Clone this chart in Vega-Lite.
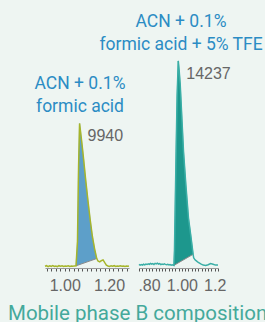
{
  "$schema": "https://vega.github.io/schema/vega-lite/v6.json",
  "background": "#eef5f2",
  "padding": {"left": 8, "top": 12, "right": 0, "bottom": 0},
  "config": {"view": {"stroke": null}, "font": "Roboto"},
  "bounds": "flush",
  "spacing": 10,
  "title": {"text": "Mobile phase B composition", "orient": "bottom", "anchor": "start", "frame": "group", "dx": -37, "fontSize": 20.5, "font": "Roboto", "fontWeight": "normal", "color": "#44a99b", "offset": 11},
  "datasets": {
    "left": [
      {"time": 0.911, "signal": 120}, {"time": 0.918, "signal": 160}, {"time": 0.925, "signal": 95}, {"time": 0.932, "signal": 150},
      {"time": 0.939, "signal": 115}, {"time": 0.946, "signal": 170}, {"time": 0.953, "signal": 105}, {"time": 0.96, "signal": 140},
      {"time": 0.967, "signal": 90}, {"time": 0.974, "signal": 160}, {"time": 0.981, "signal": 125}, {"time": 0.988, "signal": 150},
      {"time": 0.995, "signal": 100}, {"time": 1.002, "signal": 135}, {"time": 1.009, "signal": 115}, {"time": 1.016, "signal": 150},
      {"time": 1.023, "signal": 105}, {"time": 1.03, "signal": 140}, {"time": 1.037, "signal": 120}, {"time": 1.044, "signal": 145},
      {"time": 1.051, "signal": 150}, {"time": 1.0575, "signal": 1800}, {"time": 1.0625, "signal": 7000}, {"time": 1.067, "signal": 9940},
      {"time": 1.072, "signal": 9300}, {"time": 1.078, "signal": 8500}, {"time": 1.085, "signal": 7500}, {"time": 1.095, "signal": 6000},
      {"time": 1.105, "signal": 4600}, {"time": 1.115, "signal": 3300}, {"time": 1.125, "signal": 2150}, {"time": 1.135, "signal": 1300},
      {"time": 1.1445, "signal": 650}, {"time": 1.15, "signal": 480}, {"time": 1.158, "signal": 420}, {"time": 1.165, "signal": 500},
      {"time": 1.173, "signal": 560}, {"time": 1.18, "signal": 380}, {"time": 1.188, "signal": 200}, {"time": 1.195, "signal": 140},
      {"time": 1.202, "signal": 110}, {"time": 1.209, "signal": 150}, {"time": 1.216, "signal": 120}, {"time": 1.223, "signal": 160},
      {"time": 1.23, "signal": 105}, {"time": 1.237, "signal": 140}, {"time": 1.244, "signal": 115}, {"time": 1.251, "signal": 150},
      {"time": 1.258, "signal": 120}, {"time": 1.265, "signal": 140}, {"time": 1.272, "signal": 100}, {"time": 1.279, "signal": 135},
      {"time": 1.286, "signal": 120}, {"time": 1.29, "signal": 130}
    ],
    "right": [
      {"time": 0.739, "signal": 250}, {"time": 0.746, "signal": 190}, {"time": 0.753, "signal": 230}, {"time": 0.76, "signal": 200},
      {"time": 0.767, "signal": 260}, {"time": 0.774, "signal": 220}, {"time": 0.781, "signal": 270}, {"time": 0.788, "signal": 240},
      {"time": 0.795, "signal": 290}, {"time": 0.802, "signal": 250}, {"time": 0.809, "signal": 310}, {"time": 0.816, "signal": 260},
      {"time": 0.823, "signal": 300}, {"time": 0.83, "signal": 240}, {"time": 0.837, "signal": 320}, {"time": 0.844, "signal": 280},
      {"time": 0.851, "signal": 330}, {"time": 0.858, "signal": 270}, {"time": 0.865, "signal": 300}, {"time": 0.872, "signal": 230},
      {"time": 0.879, "signal": 270}, {"time": 0.886, "signal": 240}, {"time": 0.893, "signal": 290}, {"time": 0.9, "signal": 250},
      {"time": 0.907, "signal": 230}, {"time": 0.914, "signal": 260}, {"time": 0.921, "signal": 210}, {"time": 0.928, "signal": 240},
      {"time": 0.935, "signal": 190}, {"time": 0.942, "signal": 220}, {"time": 0.9515, "signal": 180}, {"time": 0.955, "signal": 1200},
      {"time": 0.965, "signal": 8000}, {"time": 0.971, "signal": 11800}, {"time": 0.978, "signal": 14237}, {"time": 0.984, "signal": 13500},
      {"time": 0.99, "signal": 12600}, {"time": 1.0, "signal": 10300}, {"time": 1.01, "signal": 8000}, {"time": 1.024, "signal": 5750},
      {"time": 1.04, "signal": 3450}, {"time": 1.056, "signal": 2080}, {"time": 1.0685, "signal": 940}, {"time": 1.072, "signal": 700},
      {"time": 1.08, "signal": 560}, {"time": 1.09, "signal": 470}, {"time": 1.1, "signal": 380}, {"time": 1.115, "signal": 280},
      {"time": 1.13, "signal": 200}, {"time": 1.145, "signal": 170}, {"time": 1.16, "signal": 220}, {"time": 1.175, "signal": 300},
      {"time": 1.19, "signal": 260}, {"time": 1.205, "signal": 200}, {"time": 1.22, "signal": 210}
    ],
    "leftChord": [{"time": 1.051, "signal": 150, "time2": 1.1445, "signal2": 650}],
    "rightChord": [{"time": 0.9515, "signal": 180, "time2": 1.0685, "signal2": 940}],
    "leftLabel": [{"time": 1.067, "signal": 9940, "label": "9940"}],
    "rightLabel": [{"time": 0.978, "signal": 14237, "label": "14237"}]
  },
  "hconcat": [
    {
      "width": 84,
      "height": 216,
      "title": {"text": ["ACN + 0.1%", "formic acid"], "fontSize": 17.5, "font": "Roboto", "fontWeight": "normal", "color": "#2b8cc4", "lineHeight": 23, "offset": -63, "dx": -7, "anchor": "middle"},
      "encoding": {
        "x": {"field": "time", "type": "quantitative", "scale": {"domain": [0.911, 1.29], "nice": false, "zero": false},
          "axis": {"values": [0.92, 0.94, 0.96, 0.98, 1.0, 1.02, 1.04, 1.06, 1.08, 1.1, 1.12, 1.14, 1.16, 1.18, 1.2, 1.22, 1.24, 1.26, 1.28],
            "labelExpr": "abs(datum.value-1)<0.001 ? '1.00' : abs(datum.value-1.2)<0.001 ? '1.20' : ''",
            "title": null, "grid": false, "tickSize": 3, "tickColor": "#555", "domainColor": "#999", "labelFont": "Liberation Sans", "labelFontSize": 16, "labelColor": "#666", "labelPadding": 6, "labelOverlap": false, "labelBound": false, "labelFlush": false}},
        "y": {"field": "signal", "type": "quantitative", "scale": {"domain": [0, 14850], "nice": false}, "axis": null}
      },
      "layer": [
        {"data": {"name": "left"}, "transform": [{"filter": "datum.time >= 1.051 && datum.time <= 1.1445"}], "mark": {"type": "line", "fill": "#5d9fc9", "stroke": "#5d9fc9", "strokeWidth": 0.5}},
        {"data": {"name": "leftChord"}, "mark": {"type": "rule", "color": "#8a8a8a", "strokeWidth": 1}, "encoding": {"x2": {"field": "time2"}, "y2": {"field": "signal2"}}},
        {"data": {"name": "left"}, "mark": {"type": "line", "color": "#a6b52b", "strokeWidth": 1.5}},
        {"data": {"name": "leftLabel"}, "mark": {"type": "text", "align": "left", "baseline": "middle", "dx": 8, "dy": 13, "fontSize": 16, "font": "Liberation Sans", "color": "#666"}, "encoding": {"text": {"field": "label"}}}
      ]
    },
    {
      "width": 79,
      "height": 216,
      "title": {"text": ["ACN + 0.1%", "formic acid + 5% TFE"], "fontSize": 17.5, "font": "Roboto", "fontWeight": "normal", "color": "#2b8cc4", "lineHeight": 23, "offset": -1, "dx": 2.5, "anchor": "middle"},
      "encoding": {
        "x": {"field": "time", "type": "quantitative", "scale": {"domain": [0.739, 1.22], "nice": false, "zero": false},
          "axis": {"values": [0.74, 0.76, 0.78, 0.8, 0.82, 0.84, 0.86, 0.88, 0.9, 0.92, 0.94, 0.96, 0.98, 1.0, 1.02, 1.04, 1.06, 1.08, 1.1, 1.12, 1.14, 1.16, 1.18, 1.2, 1.22],
            "labelExpr": "abs(datum.value-0.8)<0.001 ? '.80' : abs(datum.value-1)<0.001 ? '1.00' : abs(datum.value-1.2)<0.001 ? '1.2' : ''",
            "title": null, "grid": false, "tickSize": 3, "tickColor": "#555", "domainColor": "#999", "labelFont": "Liberation Sans", "labelFontSize": 16, "labelColor": "#666", "labelPadding": 6, "labelOverlap": false, "labelBound": false, "labelFlush": false}},
        "y": {"field": "signal", "type": "quantitative", "scale": {"domain": [0, 14850], "nice": false}, "axis": null}
      },
      "layer": [
        {"data": {"name": "right"}, "transform": [{"filter": "datum.time >= 0.9515 && datum.time <= 1.0685"}], "mark": {"type": "line", "fill": "#1d978d", "stroke": "#1d978d", "strokeWidth": 0.5}},
        {"data": {"name": "rightChord"}, "mark": {"type": "rule", "color": "#8a8a8a", "strokeWidth": 1}, "encoding": {"x2": {"field": "time2"}, "y2": {"field": "signal2"}}},
        {"data": {"name": "right"}, "mark": {"type": "line", "color": "#3aaea6", "strokeWidth": 1.5}},
        {"data": {"name": "rightLabel"}, "mark": {"type": "text", "align": "left", "baseline": "middle", "dx": 8, "dy": 13, "fontSize": 16, "font": "Liberation Sans", "color": "#666"}, "encoding": {"text": {"field": "label"}}}
      ]
    }
  ]
}
